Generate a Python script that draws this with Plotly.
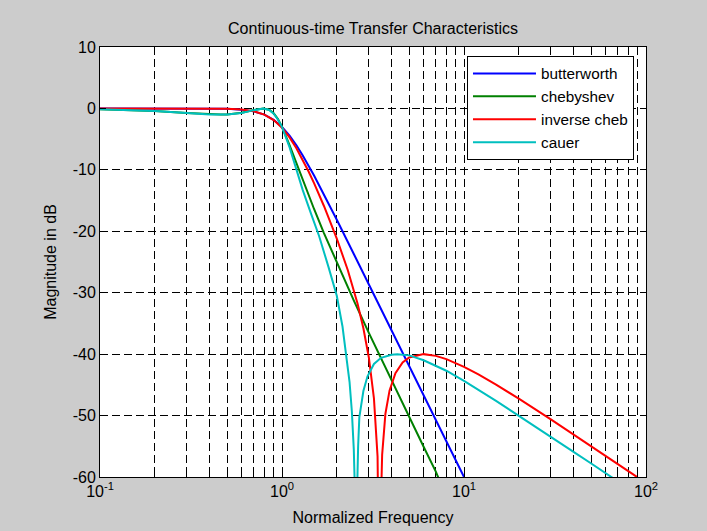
import plotly.graph_objects as go

# ---------------- data ----------------
butter_w = [0.1, 0.3, 0.5, 0.6, 0.7, 0.8, 0.9, 1.0, 1.1, 1.2, 1.3, 1.5, 1.7, 2.0,
            2.5, 3.0, 4.0, 5.0, 6.0, 7.0, 8.0, 9.0, 10.0]
butter_db = [0.0, -0.003, -0.07, -0.2, -0.48, -1.01, -1.85, -3.01, -4.43, -6.0, -7.65,
             -10.93, -14.0, -18.13, -23.89, -28.63, -36.12, -41.94, -46.69, -50.71,
             -54.19, -57.25, -60.0]

cheb_w = [0.1, 0.2, 0.3, 0.4, 0.46, 0.5, 0.6, 0.7, 0.79, 0.85, 0.9, 0.95, 1.0, 1.1,
          1.2, 1.3, 1.5, 1.7, 2.0, 2.5, 3.0, 4.0, 5.0, 6.0, 7.0, 7.25]
cheb_db = [-0.12, -0.41, -0.74, -0.96, -1.0, -0.98, -0.72, -0.27, 0.0, -0.2, -0.78,
           -1.74, -3.01, -5.97, -8.93, -11.66, -16.37, -20.29, -25.13, -31.5, -36.54,
           -44.31, -50.25, -55.07, -59.13, -60.2]

icheb_w = [0.1, 0.5, 0.6, 0.7, 0.8, 0.9, 1.0, 1.1, 1.2, 1.3, 1.4, 1.5, 1.7, 2.0, 2.3,
           2.6, 2.8, 3.0, 3.2, 3.35, 3.42, 3.44, 3.47, 3.55, 3.7, 3.9, 4.2, 4.6, 5.0,
           6.0, 7.0, 8.0, 10.0, 12.0, 15.0, 20.0, 30.0, 40.0, 50.0, 60.0, 70.0, 80.0, 90.0]
icheb_db = [0.0, -0.06, -0.19, -0.47, -1.01, -1.89, -3.15, -4.72, -6.49, -8.37, -10.27,
            -12.17, -15.88, -21.18, -26.34, -31.76, -35.78, -40.54, -47.2, -56.65, -70.0,
            -85.0, -68.0, -56.4, -49.7, -45.9, -43.1, -41.35, -40.53, -40.0, -40.28,
            -40.81, -42.07, -43.3, -44.97, -47.25, -50.63, -53.08, -54.99, -56.57, -57.9,
            -59.04, -60.07]

cauer_w = [0.1, 0.2, 0.3, 0.4, 0.5, 0.6, 0.7, 0.79, 0.85, 0.9, 0.95, 1.0, 1.1, 1.2,
           1.3, 1.45, 1.6, 1.8, 2.0, 2.15, 2.25, 2.35, 2.42, 2.48, 2.53, 2.55, 2.57,
           2.62, 2.66, 2.8, 2.95, 3.2, 3.5, 4.0, 4.3, 5.0, 6.0, 8.0, 10.0, 15.0, 20.0,
           30.0, 40.0, 50.0, 60.0, 66.0]
cauer_db = [-0.14, -0.43, -0.76, -0.97, -0.99, -0.74, -0.28, 0.0, -0.25, -0.85, -1.8,
            -3.0, -6.3, -10.0, -13.3, -17.3, -20.8, -25.8, -30.5, -35.5, -40.0, -44.5,
            -49.3, -55.5, -65.0, -80.0, -66.0, -55.0, -50.3, -46.0, -43.6, -41.6, -40.6,
            -40.1, -40.0, -40.2, -41.0, -42.7, -44.35, -47.6, -50.0, -53.4, -55.9,
            -57.8, -59.4, -60.2]

series_names = ["butterworth", "chebyshev", "inverse cheb", "cauer"]
series_colors = ["#0000FF", "#008000", "#FF0000", "#00BFBF"]

x_tick_vals = [0.1, 1, 10, 100]
x_tick_text = ["10<sup>-1</sup>", "10<sup>0</sup>", "10<sup>1</sup>", "10<sup>2</sup>"]
x_minor_vals = [m * d for d in (0.1, 1, 10) for m in range(2, 10)]
y_tick_vals = [-60, -50, -40, -30, -20, -10, 0, 10]
y_tick_text = ["-60", "-50", "-40", "-30", "-20", "-10", "0", "10"]

title_text = "Continuous-time Transfer Characteristics"
x_title = "Normalized Frequency"
y_title = "Magnitude in dB"

# ---------------- figure ----------------
FONT = "Liberation Sans, Arial, Helvetica, sans-serif"
fig = go.Figure()
for (w, db), name, col in zip(
        [(butter_w, butter_db), (cheb_w, cheb_db), (icheb_w, icheb_db), (cauer_w, cauer_db)],
        series_names, series_colors):
    fig.add_trace(go.Scatter(x=w, y=db, mode="lines", name=name,
                             line=dict(color=col, width=2)))

grid_dash = "8px,4px"
fig.update_layout(
    width=707, height=531,
    margin=dict(l=100, r=61, t=47, b=54, autoexpand=False),
    paper_bgcolor="#CCCCCC", plot_bgcolor="#FFFFFF",
    font=dict(family=FONT, size=16, color="#000000"),
    title=dict(text=title_text, x=0.5, xref="paper", xanchor="center",
               y=1 - 28 / 531, yref="container", yanchor="middle",
               font=dict(size=16)),
    showlegend=True,
    legend=dict(x=0.978, y=0.979, xanchor="right", yanchor="top",
                bgcolor="#FFFFFF", bordercolor="#000000", borderwidth=1,
                font=dict(size=15.3), itemwidth=63),
)
fig.update_xaxes(
    type="log", range=[-1, 2], automargin=False,
    tickmode="array", tickvals=x_tick_vals, ticktext=x_tick_text,
    ticks="inside", ticklen=6, tickcolor="#000000",
    showline=True, linecolor="#000000", linewidth=1, mirror="allticks",
    showgrid=True, gridcolor="#000000", gridwidth=1, griddash=grid_dash,
    zeroline=False,
    minor=dict(tickmode="array", tickvals=x_minor_vals, ticks="inside", ticklen=3,
               tickcolor="#000000", showgrid=True, gridcolor="#000000",
               gridwidth=1, griddash=grid_dash),
    title=dict(text=x_title, font=dict(size=16), standoff=12),
    tickfont=dict(size=16),
)
fig.update_yaxes(
    range=[-60, 10], automargin=False,
    tickmode="array", tickvals=y_tick_vals, ticktext=y_tick_text,
    ticks="inside", ticklen=6, tickcolor="#000000",
    showline=True, linecolor="#000000", linewidth=1, mirror="allticks",
    showgrid=True, gridcolor="#000000", gridwidth=1, griddash=grid_dash,
    zeroline=False,
    title=dict(text=y_title, font=dict(size=16), standoff=12),
    tickfont=dict(size=16),
)

fig.write_html("out.html")
